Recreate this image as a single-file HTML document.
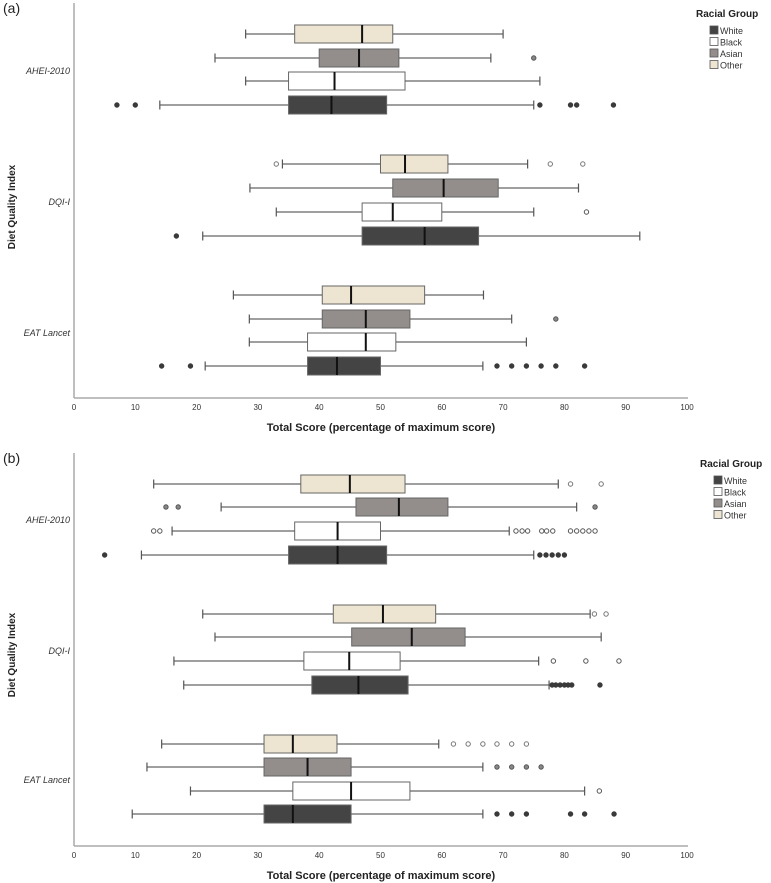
<!DOCTYPE html>
<html><head><meta charset="utf-8"><style>
body{margin:0;background:#fff;}
svg{display:block;font-family:"Liberation Sans",sans-serif;}
</style></head><body>
<svg id="c" width="771" height="883" viewBox="0 0 771 883"></svg>
<script>
const groups = ["White","Black","Asian","Other"];
const indices = ["AHEI-2010","DQI-I","EAT Lancet"];
const xTicks = [0,10,20,30,40,50,60,70,80,90,100];
// [lowWhisker, q1, median, q3, highWhisker] per index, per group (White, Black, Asian, Other)
const statsA = [
 [[14,35,42,51,75],[28,35,42.5,54,76],[23,40,46.5,53,68],[28,36,47,52,70]],
 [[21,47,57.2,66,92.3],[33,47,52,60,75],[28.7,52,60.3,69.2,82.3],[34,50,54,61,74]],
 [[21.4,38.1,42.9,50,66.7],[28.6,38.1,47.6,52.5,73.8],[28.6,40.5,47.6,54.8,71.4],[26,40.5,45.2,57.2,66.8]]
];
const outA = [
 [[7,10,76,81,82,88],[],[75],[]],
 [[16.7],[83.6],[],[33,77.7,83]],
 [[14.3,19,69,71.4,73.8,76.2,78.6,83.3],[],[78.6],[]]
];
const statsB = [
 [[11,35,43,51,75],[16,36,43,50,71],[24,46,53,61,82],[13,37,45,54,79]],
 [[17.9,38.8,46.4,54.5,77.5],[16.3,37.5,44.9,53.2,75.8],[23,45.3,55.1,63.8,86],[21,42.3,50.4,59,84.2]],
 [[9.5,31,35.7,45.2,66.7],[19,35.7,45.2,54.8,83.3],[11.9,31,38.1,45.2,66.7],[14.3,31,35.7,42.9,59.5]]
];
const outB = [
 [[5,76,77,78,79,80],[13,14,72.1,73.1,74,76.3,77.1,78.1,81,82,83,84,85],[15,17,85],[81,86]],
 [[78,78.6,79.3,80,80.6,81.2,85.8],[78.2,83.5,88.9],[],[84.9,86.8]],
 [[69,71.4,73.8,81,83.3,88.1],[85.7],[69,71.4,73.8,76.2],[61.9,64.3,66.7,69,71.4,73.8]]
];
const fills={White:"#444444",Black:"#ffffff",Asian:"#938e8c",Other:"#ede5d1"};
const outFill={White:"#3a3a3a",Black:"#fff",Asian:"#888",Other:"#fff"};
const outStroke={White:"#3a3a3a",Black:"#555",Asian:"#555",Other:"#777"};
const NS="http://www.w3.org/2000/svg";
const svg=document.getElementById("c");
function el(t,a,p){const e=document.createElementNS(NS,t);for(const k in a)e.setAttribute(k,a[k]);(p||svg).appendChild(e);return e;}
function x(v){return 74+v*6.13;}

function panel(cfg){
  const g=el("g",{});
  
  
  const lab=el("text",{x:3,y:cfg.top+10,"font-size":14,fill:"#222"},g);lab.textContent=cfg.label;
  
  
  const ax=el("line",{x1:74,y1:cfg.top,x2:74,y2:cfg.axisY,stroke:"#aaa","stroke-width":1.5},g);
  
  
  const axx=el("line",{x1:74,y1:cfg.axisY,x2:688,y2:cfg.axisY,stroke:"#aaa","stroke-width":1.5},g);
  
  
  xTicks.forEach(t=>{const tx=el("text",{x:x(t),y:cfg.axisY+12,"font-size":8,"text-anchor":"middle",fill:"#333"},g);tx.textContent=t;
    
    });
  const xt=el("text",{x:381,y:cfg.axisY+33,"font-size":11,"font-weight":"bold","text-anchor":"middle",fill:"#222"},g);
  xt.textContent="Total Score (percentage of maximum score)";
  
  
  const yt=el("text",{x:0,y:0,"font-size":10,"font-weight":"bold","text-anchor":"middle",fill:"#222",transform:`translate(15,${cfg.ylabY}) rotate(-90)`},g);
  yt.textContent="Diet Quality Index";
  
  
  indices.forEach((name,i)=>{
    const ct=el("text",{x:70,y:cfg.catY[i],"font-size":9,"font-style":"italic","text-anchor":"end",fill:"#333"},g);
    ct.textContent=name;
    
    
    groups.forEach((grp,j)=>{
      const s=cfg.stats[i][j];const cy=cfg.rowY[i][j];const h=18;
      const b=el("g",{},g);
      
      
      el("line",{x1:x(s[0]),y1:cy,x2:x(s[1]),y2:cy,stroke:"#666","stroke-width":1.2},b);
      el("line",{x1:x(s[3]),y1:cy,x2:x(s[4]),y2:cy,stroke:"#666","stroke-width":1.2},b);
      el("line",{x1:x(s[0]),y1:cy-4.5,x2:x(s[0]),y2:cy+4.5,stroke:"#555","stroke-width":1.2},b);
      el("line",{x1:x(s[4]),y1:cy-4.5,x2:x(s[4]),y2:cy+4.5,stroke:"#555","stroke-width":1.2},b);
      el("rect",{x:x(s[1]),y:cy-h/2,width:x(s[3])-x(s[1]),height:h,fill:fills[grp],stroke:"#666","stroke-width":1},b);
      el("line",{x1:x(s[2]),y1:cy-h/2,x2:x(s[2]),y2:cy+h/2,stroke:"#111","stroke-width":2},b);
      cfg.out[i][j].forEach(v=>{
        const c=el("circle",{cx:x(v),cy:cy,r:2.2,fill:outFill[grp],stroke:outStroke[grp],"stroke-width":1},b);
        
        
      });
    });
  });
  const lg=el("g",{},g);
  
  
  const lt=el("text",{x:cfg.legX,y:cfg.legY,"font-size":10,"font-weight":"bold",fill:"#222"},lg);lt.textContent="Racial Group";
  ["White","Black","Asian","Other"].forEach((grp,k)=>{
    const yy=cfg.legY+9+k*11.5;
    const it=el("g",{},lg);
    
    
    el("rect",{x:cfg.legX+14,y:yy,width:8,height:8,fill:fills[grp],stroke:"#555","stroke-width":0.8},it);
    const tt=el("text",{x:cfg.legX+24,y:yy+8,"font-size":9,fill:"#333"},it);tt.textContent=grp;
  });
}
panel({name:"panel-a",label:"(a)",top:3,axisY:398,ylabY:207,
  rowY:[[105,81,58,34],[236,212,188,164],[366,342,319,295]],catY:[74,205,336],
  stats:statsA,out:outA,legX:696,legY:17});
panel({name:"panel-b",label:"(b)",top:453,axisY:846,ylabY:655,
  rowY:[[555,531,507,484],[685,661,637,614],[814,791,767,744]],catY:[523,654,783],
  stats:statsB,out:outB,legX:700,legY:467});
</script>
</body></html>
